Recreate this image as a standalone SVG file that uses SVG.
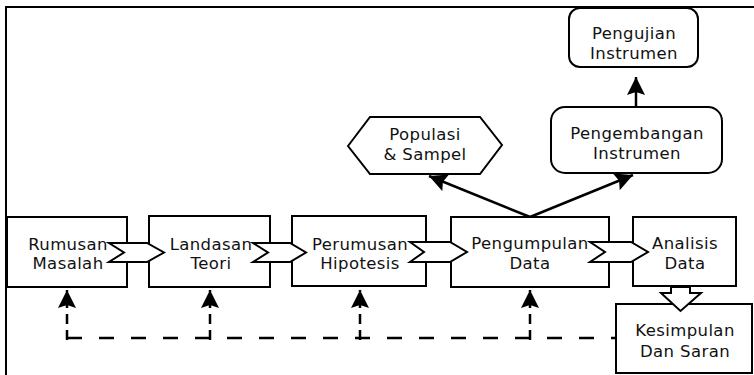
<svg xmlns="http://www.w3.org/2000/svg" width="754" height="375" viewBox="0 0 754 375">
<style>
.box{fill:#fff;stroke:#000;stroke-width:2}
.chev{fill:#fff;stroke:#000;stroke-width:2;stroke-linejoin:miter}
.t{font-family:"DejaVu Sans","Verdana",sans-serif;font-size:16.5px;letter-spacing:0.4px;fill:#111;text-anchor:middle}
.ln{fill:none;stroke:#000;stroke-width:2.5}
.dash{fill:none;stroke:#000;stroke-width:2.5;stroke-dasharray:15 17}
.vdash{fill:none;stroke:#000;stroke-width:2.5;stroke-dasharray:10 6}
</style>
<defs>
<marker id="ah" markerUnits="userSpaceOnUse" markerWidth="20" markerHeight="20" refX="18" refY="9" orient="auto">
<path d="M0,0 L18,9 L0,18 L3,9 Z" fill="#000"/>
</marker>
</defs>
<rect x="6" y="7" width="760" height="380" fill="#fff" stroke="#000" stroke-width="2"/>

<g id="connectors">
<path class="ln" d="M530,217 L429,176" marker-end="url(#ah)"/>
<path class="ln" d="M530,217 L633,175" marker-end="url(#ah)"/>
<path class="ln" d="M636,107 L636,77" marker-end="url(#ah)"/>
<path class="dash" d="M67,338 H616"/>
<path class="vdash" d="M67,340 V290" marker-end="url(#ah)"/>
<path class="vdash" d="M210,340 V290" marker-end="url(#ah)"/>
<path class="vdash" d="M360,340 V290" marker-end="url(#ah)"/>
<path class="vdash" d="M530,340 V290" marker-end="url(#ah)"/>
</g>

<g id="rumusan">
<rect class="box" x="7" y="217" width="120" height="70"/>
<text class="t" x="68" y="250">Rumusan</text>
<text class="t" x="68" y="269">Masalah</text>
</g>
<g id="landasan">
<rect class="box" x="149" y="216" width="121" height="71"/>
<text class="t" x="211" y="250">Landasan</text>
<text class="t" x="211" y="269">Teori</text>
</g>
<g id="perumusan">
<rect class="box" x="292" y="216" width="134" height="70"/>
<text class="t" x="360" y="250">Perumusan</text>
<text class="t" x="360" y="269">Hipotesis</text>
</g>
<g id="pengumpulan">
<rect class="box" x="451" y="217" width="158" height="70"/>
<text class="t" x="530" y="249">Pengumpulan</text>
<text class="t" x="530" y="269">Data</text>
</g>
<g id="analisis">
<rect class="box" x="633" y="217" width="103" height="69"/>
<text class="t" x="685" y="249">Analisis</text>
<text class="t" x="685" y="269">Data</text>
</g>
<g id="kesimpulan">
<rect class="box" x="616" y="304" width="136" height="69"/>
<text class="t" x="685" y="336">Kesimpulan</text>
<text class="t" x="685" y="357">Dan Saran</text>
</g>
<g id="populasi">
<polygon class="box" points="348,146 370,117 480,117 502,145 480,174 370,174"/>
<text class="t" x="425" y="140">Populasi</text>
<text class="t" x="425" y="160">&amp; Sampel</text>
</g>
<g id="pengembangan">
<rect class="box" x="551" y="107" width="171" height="66" rx="14"/>
<text class="t" x="637" y="139">Pengembangan</text>
<text class="t" x="637" y="159">Instrumen</text>
</g>
<g id="pengujian">
<rect class="box" x="569" y="8" width="129" height="59" rx="11"/>
<text class="t" x="634" y="39">Pengujian</text>
<text class="t" x="634" y="59">Instrumen</text>
</g>

<g id="flow-arrows">
<polygon class="chev" points="109,243 147,243 164,252.5 147,262 109,262 124,252.5"/>
<polygon class="chev" points="253,243 290,243 306,252.5 290,262 253,262 268,252.5"/>
<polygon class="chev" points="410,242 450,242 467,252 450,262 410,262 424,252"/>
<polygon class="chev" points="590,242 631,242 648,252 631,262 590,262 605,252"/>
<polygon class="chev" points="671,287 690,287 690,293 701,293 680.5,311 661,293 671,293"/>
</g>
</svg>
